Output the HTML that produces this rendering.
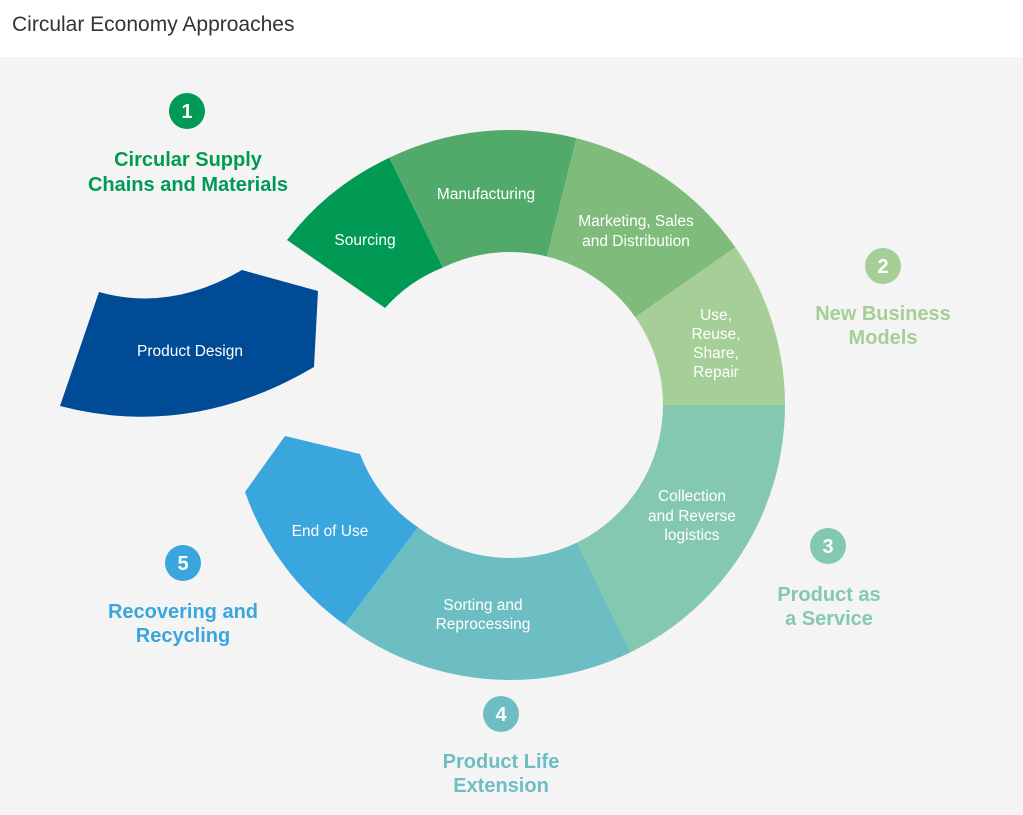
<!DOCTYPE html>
<html><head><meta charset="utf-8"><style>
html,body{margin:0;padding:0;background:#fff;}
svg{display:block;font-family:"Liberation Sans",Arial,sans-serif;}
</style></head><body>
<svg width="1023" height="815" viewBox="0 0 1023 815">
<rect x="0" y="0" width="1023" height="815" fill="#fff"/>
<rect x="0" y="57" width="1023" height="758" fill="#f4f4f4"/>
<text x="12" y="31" font-size="21" fill="#333">Circular Economy Approaches</text>

<!-- ring segments -->
<path d="M287,240 A275,275 0 0 1 389.4,157.8 L442.9,267.5 A153,153 0 0 0 385,308 Z" fill="#009a55"/>
<path d="M389.4,157.8 A275,275 0 0 1 576.5,138.2 L547,256.5 A153,153 0 0 0 442.9,267.5 Z" fill="#52aa6a"/>
<path d="M576.5,138.2 A275,275 0 0 1 735.3,247.3 L635.3,317.2 A153,153 0 0 0 547,256.5 Z" fill="#7fbc7c"/>
<path d="M735.3,247.3 A275,275 0 0 1 785,405 L663,405 A153,153 0 0 0 635.3,317.2 Z" fill="#a5cf96"/>
<path d="M785,405 A275,275 0 0 1 630.6,652.2 L577.1,542.5 A153,153 0 0 0 663,405 Z" fill="#85c8b0"/>
<path d="M630.6,652.2 A275,275 0 0 1 344.5,624.6 L417.9,527.2 A153,153 0 0 0 577.1,542.5 Z" fill="#6dbec3"/>
<path d="M344.5,624.6 A275,275 0 0 1 245,492 L285,436 L360,454 A153,153 0 0 0 417.9,527.2 Z" fill="#3aa6de"/>
<!-- product design -->
<path d="M99,292 Q170,312 242,270 L318,291 L314,367 Q190,440 60,406 Z" fill="#004b96"/>

<g fill="#fff" font-size="15.5" text-anchor="middle">
<text x="365" y="245">Sourcing</text>
<text x="486" y="199">Manufacturing</text>
<text x="636" y="226">Marketing, Sales</text>
<text x="636" y="246">and Distribution</text>
<text x="716" y="320">Use,</text>
<text x="716" y="339">Reuse,</text>
<text x="716" y="358">Share,</text>
<text x="716" y="377">Repair</text>
<text x="692" y="501">Collection</text>
<text x="692" y="521">and Reverse</text>
<text x="692" y="540">logistics</text>
<text x="483" y="610">Sorting and</text>
<text x="483" y="629">Reprocessing</text>
<text x="330" y="536">End of Use</text>
<text x="190" y="356">Product Design</text>
</g>

<g font-size="20" font-weight="bold" text-anchor="middle">
<circle cx="187" cy="111" r="18" fill="#009a55"/>
<text x="187" y="118" fill="#fff">1</text>
<text x="188" y="166" fill="#009a55">Circular Supply</text>
<text x="188" y="191" fill="#009a55">Chains and Materials</text>

<circle cx="883" cy="266" r="18" fill="#a5cf96"/>
<text x="883" y="273" fill="#fff">2</text>
<text x="883" y="320" fill="#a5cf96">New Business</text>
<text x="883" y="344" fill="#a5cf96">Models</text>

<circle cx="828" cy="546" r="18" fill="#85c8b0"/>
<text x="828" y="553" fill="#fff">3</text>
<text x="829" y="601" fill="#85c8b0">Product as</text>
<text x="829" y="625" fill="#85c8b0">a Service</text>

<circle cx="501" cy="714" r="18" fill="#6dbec3"/>
<text x="501" y="721" fill="#fff">4</text>
<text x="501" y="768" fill="#6dbec3">Product Life</text>
<text x="501" y="792" fill="#6dbec3">Extension</text>

<circle cx="183" cy="563" r="18" fill="#3aa6de"/>
<text x="183" y="570" fill="#fff">5</text>
<text x="183" y="618" fill="#3aa6de">Recovering and</text>
<text x="183" y="642" fill="#3aa6de">Recycling</text>
</g>
</svg>
</body></html>
